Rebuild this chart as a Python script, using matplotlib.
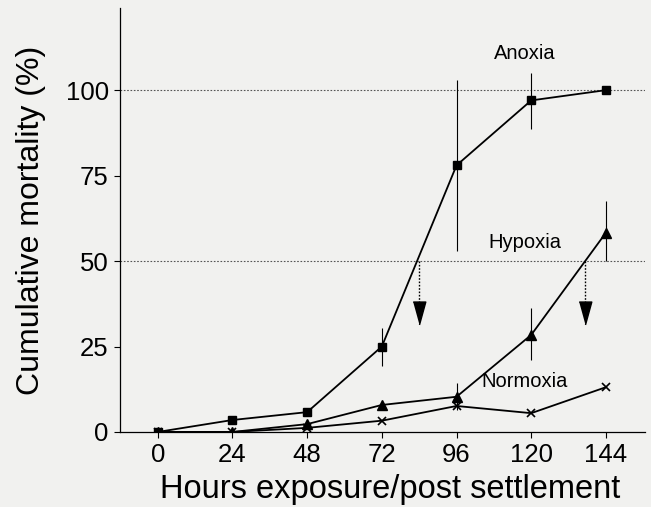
import numpy as np
import matplotlib
matplotlib.use("Agg")
import matplotlib.pyplot as plt

hours = [0, 24, 48, 72, 96, 120, 144]

anoxia = [0, 3.5, 5.8, 25, 78, 97, 100]
anoxia_lo = [0, 3.5, 5.8, 19.4, 53, 88.6, 100]
anoxia_hi = [0, 3.5, 5.8, 30.5, 103, 105, 100]

hypoxia = [0, 0, 2.3, 7.9, 10.3, 28.4, 58.3]
hypoxia_lo = [0, 0, 2.3, 7.9, 6.5, 21.1, 49.9]
hypoxia_hi = [0, 0, 2.3, 7.9, 14.3, 36.3, 67.5]

normoxia = [0, 0, 1.2, 3.3, 7.6, 5.5, 13.1]

# LT50 arrows (hours)
lt50 = [84, 137.3]

bg = '#f1f1ef'
plt.rcParams['font.family'] = ['Liberation Sans', 'DejaVu Sans']

fig = plt.figure(figsize=(6.51, 5.07), dpi=100, facecolor=bg)
ax = fig.add_axes([0.184, 0.148, 0.807, 0.836], facecolor=bg)

for yv in [50, 100]:
    ax.axhline(yv, color='#555555', lw=0.8, ls=(0, (1.5, 1.5)), zorder=1)


def err(vals, lo, hi):
    v = np.array(vals)
    return [v - np.array(lo), np.array(hi) - v]


ax.errorbar(hours, anoxia, yerr=err(anoxia, anoxia_lo, anoxia_hi), color='black', lw=1.3,
            marker='s', ms=5.5, elinewidth=0.8, capsize=0, zorder=3)
ax.errorbar(hours, hypoxia, yerr=err(hypoxia, hypoxia_lo, hypoxia_hi), color='black', lw=1.3,
            marker='^', ms=7, elinewidth=0.8, capsize=0, zorder=3)
ax.plot(hours, normoxia, color='black', lw=1.3, marker='x', ms=6, mew=1.2, zorder=3)

# narrow downward arrowhead
head = [(-0.55, 1.0), (0.55, 1.0), (0, -1.0)]
for xa in lt50:
    ax.plot([xa, xa], [50, 38], color='black', lw=1.0, ls=(0, (1.2, 1.2)), zorder=2)
    ax.plot(xa, 34.8, marker=head, color='black', ms=16.5, zorder=2)

ax.text(118, 110.6, 'Anoxia', fontsize=14.5, ha='center', va='center')
ax.text(118, 55.4, 'Hypoxia', fontsize=14.5, ha='center', va='center')
ax.text(118, 14.7, 'Normoxia', fontsize=14.5, ha='center', va='center')

ax.set_xlim(-12.2, 156.6)
ax.set_ylim(0, 124)
ax.set_xticks(hours)
ax.set_yticks([0, 25, 50, 75, 100])
ax.tick_params(labelsize=18.5, length=4, width=0.8, direction='out', pad=4)
ax.set_xlabel('Hours exposure/post settlement', fontsize=23.5)
ax.xaxis.set_label_coords(0.515, -0.098, transform=ax.transAxes)
ax.xaxis.label.set_va('top')
ax.set_ylabel('Cumulative mortality (%)', fontsize=23, labelpad=14)

for s in ['top', 'right']:
    ax.spines[s].set_visible(False)
for s in ['left', 'bottom']:
    ax.spines[s].set_linewidth(0.9)

fig.savefig('out.png', dpi=100, facecolor=bg)
